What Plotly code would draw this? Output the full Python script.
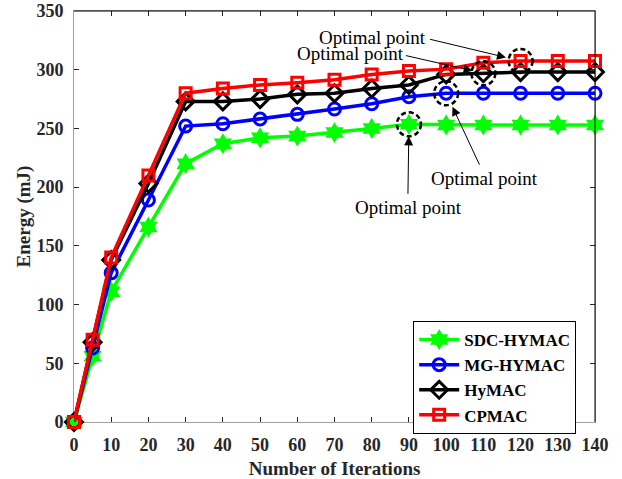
import plotly.graph_objects as go

iterations = [0, 5, 10, 20, 30, 40, 50, 60, 70, 80, 90, 100, 110, 120, 130, 140]
sdc_hymac = [0, 56, 111, 166, 220, 237, 242, 243.5, 246.5, 250, 253.5, 253, 253, 253, 253, 253]
mg_hymac = [0, 63, 127, 189, 252, 254, 258, 262, 266.5, 271, 277, 280, 280, 280, 280, 280]
hymac = [0, 68, 138, 203, 273, 273, 275, 279, 280, 284, 287, 296, 297, 298, 298, 298]
cpmac = [0, 70, 140, 210, 280, 284, 287, 289, 291.5, 296, 299, 300.5, 306, 307.5, 307.5, 307.5]

x_ticks = list(range(0, 141, 10))
y_ticks = list(range(0, 351, 50))

# optimal points: (series, x value)
optimal = [(cpmac, 120), (hymac, 110), (mg_hymac, 100), (sdc_hymac, 90)]

FONT = "Liberation Serif"

fig = go.Figure()

series = [
    ("SDC-HYMAC", sdc_hymac, "#00FF00", "hexagram", 16),
    ("MG-HYMAC", mg_hymac, "#0000FF", "circle-open", 12),
    ("HyMAC", hymac, "#000000", "diamond-open", 13),
    ("CPMAC", cpmac, "#FF0000", "square-open", 11),
]
for name, vals, col, sym, size in series:
    fig.add_trace(go.Scatter(
        x=iterations, y=vals, name=name, mode="lines+markers",
        line=dict(color=col, width=3.5),
        marker=dict(symbol=sym, size=size, color=col,
                    line=dict(color=col, width=3 if "open" in sym else 0)),
        cliponaxis=False,
    ))

shapes = []
for vals, xv in optimal:
    yv = vals[iterations.index(xv)]
    shapes.append(dict(type="circle", xref="x", yref="y", xsizemode="pixel", ysizemode="pixel",
                       xanchor=xv, yanchor=yv, x0=-12, x1=12, y0=-12, y1=12,
                       line=dict(color="black", width=2.5, dash="5px,3px"), layer="above"))
# black top and right frame lines
shapes.append(dict(type="line", xref="paper", yref="paper", x0=0, x1=1, y0=1, y1=1,
                   line=dict(color="black", width=1), layer="above"))
shapes.append(dict(type="line", xref="paper", yref="paper", x0=1, x1=1, y0=0, y1=1,
                   line=dict(color="black", width=1), layer="above"))

annotations = []
arrow_specs = [
    # (series, x, ax, ay, standoff)
    (cpmac, 120, -92, -22, 15),
    (hymac, 110, -79, -18, 11),
    (mg_hymac, 100, 34, 73, 15),
    (sdc_hymac, 90, -1, 71, 12),
]
for vals, xv, ax, ay, so in arrow_specs:
    yv = vals[iterations.index(xv)]
    annotations.append(dict(x=xv, y=yv, xref="x", yref="y", text="", showarrow=True,
                            ax=ax, ay=ay, arrowhead=2, arrowsize=1.8, arrowwidth=1,
                            arrowcolor="black", standoff=so))
text_pos = [(80.3, 327.5), (74.2, 313.5), (110.2, 207.7), (89.8, 183)]
for tx, ty in text_pos:
    annotations.append(dict(x=tx, y=ty, xref="x", yref="y", text="Optimal point",
                            showarrow=False, font=dict(family=FONT, size=19, color="black")))

fig.update_layout(
    width=622, height=479,
    margin=dict(l=74, r=27, t=11, b=57),
    paper_bgcolor="white", plot_bgcolor="white",
    showlegend=True,
    legend=dict(x=0.651, y=0.2457, xanchor="left", yanchor="top",
                bgcolor="white", bordercolor="black", borderwidth=1,
                font=dict(family=FONT, size=17, color="black", weight="bold"),
                tracegroupgap=0, itemwidth=40),
    shapes=shapes,
    annotations=annotations,
)
fig.update_xaxes(range=[0, 140], tickvals=x_ticks, ticktext=[str(v) for v in x_ticks],
                 automargin=False,
                 showline=True, linecolor="#a0a0a0", linewidth=1, mirror="ticks",
                 ticks="inside", ticklen=5, tickcolor="#262626", showgrid=False, zeroline=False,
                 layer="below traces", ticklabelstandoff=6,
                 tickfont=dict(family=FONT, size=18, color="#262626", weight="bold"),
                 title=dict(text="Number of Iterations", standoff=8,
                            font=dict(family=FONT, size=19, color="#262626", weight="bold")))
fig.update_yaxes(range=[0, 350], tickvals=y_ticks, ticktext=[str(v) for v in y_ticks],
                 automargin=False,
                 showline=True, linecolor="#a0a0a0", linewidth=1, mirror="ticks",
                 ticks="inside", ticklen=5, tickcolor="#262626", showgrid=False, zeroline=False,
                 layer="below traces", ticklabelstandoff=6,
                 tickfont=dict(family=FONT, size=18, color="#262626", weight="bold"),
                 title=dict(text="Energy (mJ)", standoff=0,
                            font=dict(family=FONT, size=19, color="#262626", weight="bold")))

fig.write_html("out.html")
